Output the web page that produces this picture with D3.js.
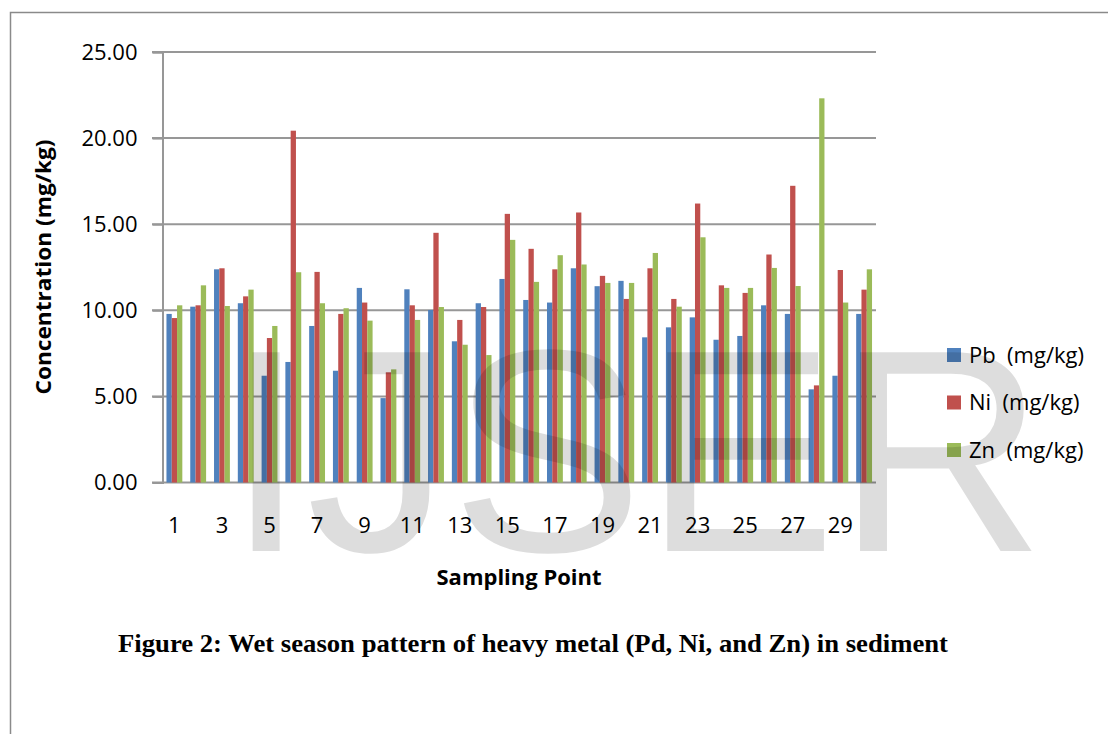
<!DOCTYPE html>
<html>
<head>
<meta charset="utf-8">
<script src="https://cdn.jsdelivr.net/npm/d3@7"></script>
<style>
  body { margin: 0; background: #fff; }
  svg { display: block; }
</style>
</head>
<body>
<svg width="1108" height="734"></svg>
<script>
// sampling points 1..30
const points = d3.range(1, 31);

const pb = [9.79, 10.21, 12.38, 10.41, 6.20, 7.00, 9.09, 6.49, 11.30, 4.90,
            11.22, 10.02, 8.20, 10.41, 11.82, 10.60, 10.45, 12.44, 11.40, 11.71,
            8.43, 9.01, 9.59, 8.29, 8.51, 10.29, 9.79, 5.41, 6.20, 9.79];
const ni = [9.55, 10.29, 12.44, 10.81, 8.39, 20.43, 12.23, 9.79, 10.45, 6.40,
            10.29, 14.50, 9.44, 10.19, 15.60, 13.57, 12.38, 15.68, 12.00, 10.66,
            12.44, 10.66, 16.20, 11.45, 11.01, 13.24, 17.23, 5.64, 12.34, 11.20];
const zn = [10.29, 11.45, 10.25, 11.20, 9.09, 12.21, 10.41, 10.12, 9.40, 6.57,
            9.44, 10.19, 8.00, 7.40, 14.09, 11.65, 13.20, 12.66, 11.59, 11.59,
            13.33, 10.21, 14.24, 11.30, 11.30, 12.46, 11.41, 22.31, 10.45, 12.38];

const seriesNames = ["Pb  (mg/kg)", "Ni  (mg/kg)", "Zn  (mg/kg)"];
const seriesColors = ["#4F81BD", "#C0504D", "#9BBB59"];
const yTicks = [0, 5, 10, 15, 20, 25];

const series = [pb, ni, zn];

const svg = d3.select("svg");

const area = { left: 162.5, right: 876, top: 52, bottom: 482.5, gridStart: 152 };

// outer frame
svg.append("path")
    .attr("d", "M10.5,734 L10.5,12.5 L1108,12.5")
    .attr("fill", "none")
    .attr("stroke", "#8a8a8a")
    .attr("stroke-width", 1.5);

const scX = d3.scaleBand()
    .domain(points)
    .range([area.left, area.right])
    .paddingInner(1 / 3)
    .paddingOuter(1 / 6);

const scInner = d3.scaleBand()
    .domain([0, 1, 2])
    .range([0, scX.bandwidth()]);

const scY = d3.scaleLinear()
    .domain([0, 25])
    .range([area.bottom, area.top]);

// gridlines
svg.append("g")
    .selectAll("line")
    .data(yTicks)
    .enter()
    .append("line")
    .attr("x1", area.gridStart)
    .attr("x2", area.right)
    .attr("y1", d => scY(d))
    .attr("y2", d => scY(d))
    .attr("stroke", "#979797")
    .attr("stroke-width", 2);

// y axis
const axisY = svg.append("g")
    .attr("transform", `translate(${area.left},0)`)
    .call(d3.axisLeft(scY).tickValues(yTicks).tickFormat(d3.format(".2f")).tickSize(10).tickPadding(15));
axisY.select(".domain").attr("stroke", "#979797").attr("stroke-width", 2);
axisY.selectAll(".tick line").attr("stroke", "#979797").attr("stroke-width", 2);
axisY.selectAll("text")
    .style("font-family", "'Open Sans', sans-serif")
    .style("font-size", "22px")
    .attr("fill", "#000");

// bars
series.forEach((values, si) => {
    svg.append("g")
        .selectAll("rect")
        .data(values)
        .enter()
        .append("rect")
        .attr("x", (d, i) => scX(points[i]) + scInner(si))
        .attr("y", d => scY(d))
        .attr("width", scInner.bandwidth())
        .attr("height", d => area.bottom - scY(d))
        .attr("fill", seriesColors[si]);
});

// x axis labels (every other one)
const axisX = svg.append("g")
    .attr("transform", `translate(0,${area.bottom})`)
    .call(d3.axisBottom(scX).tickSize(0).tickPadding(35).tickFormat(d => d % 2 === 1 ? d : ""));
axisX.select(".domain").remove();
axisX.selectAll("text")
    .style("font-family", "'Open Sans', sans-serif")
    .style("font-size", "22px")
    .attr("fill", "#000");

// axis titles
svg.append("text")
    .attr("x", 519)
    .attr("y", 585)
    .attr("text-anchor", "middle")
    .style("font-family", "'Open Sans', sans-serif")
    .style("font-weight", "bold")
    .style("font-size", "21px")
    .attr("textLength", 165)
    .attr("lengthAdjust", "spacingAndGlyphs")
    .text("Sampling Point");

svg.append("text")
    .attr("transform", "translate(51,267) rotate(-90)")
    .attr("text-anchor", "middle")
    .style("font-family", "'Open Sans', sans-serif")
    .style("font-weight", "bold")
    .style("font-size", "21px")
    .attr("textLength", 255)
    .attr("lengthAdjust", "spacingAndGlyphs")
    .text("Concentration (mg/kg)");

// legend
const legend = svg.append("g");
seriesNames.forEach((name, i) => {
    const cy = 355 + i * 47.5;
    legend.append("rect")
        .attr("x", 947)
        .attr("y", cy - 7)
        .attr("width", 14)
        .attr("height", 14)
        .attr("fill", seriesColors[i]);
    legend.append("text")
        .attr("x", 969)
        .attr("y", cy)
        .attr("dy", "0.35em")
        .attr("xml:space", "preserve")
        .style("white-space", "pre")
        .style("font-family", "'Open Sans', sans-serif")
        .style("font-size", "22px")
        .text(name);
});

// caption
svg.append("text")
    .attr("x", 118)
    .attr("y", 652)
    .attr("textLength", 830)
    .attr("lengthAdjust", "spacingAndGlyphs")
    .style("font-family", "'Liberation Serif', 'Times New Roman', serif")
    .style("font-weight", "bold")
    .style("font-size", "25px")
    .text("Figure 2: Wet season pattern of heavy metal (Pd, Ni, and Zn) in sediment");

// watermark
svg.append("text")
    .attr("x", 226)
    .attr("y", 551)
    .style("font-family", "'Liberation Sans', Arial, sans-serif")
    .style("font-size", "289px")
    .attr("fill", "#000")
    .attr("fill-opacity", 0.135)
    .text("IJSER");
</script>
</body>
</html>
